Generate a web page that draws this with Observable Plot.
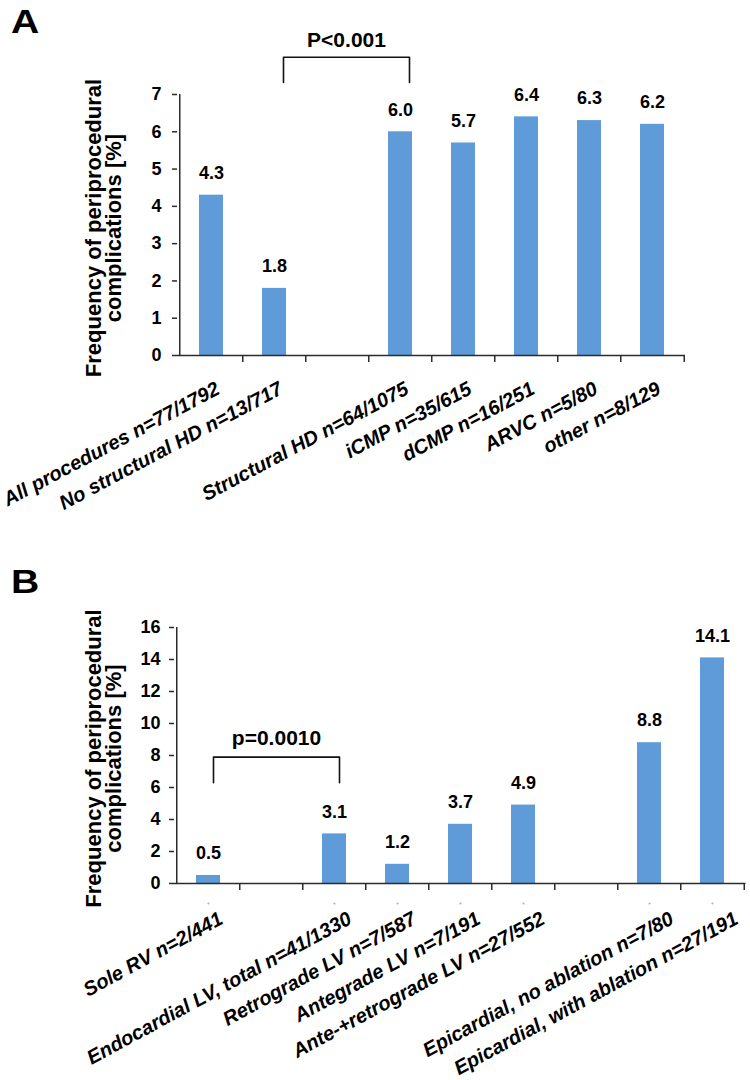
<!DOCTYPE html>
<html>
<head>
<meta charset="utf-8">
<script src="https://cdn.jsdelivr.net/npm/d3@7"></script>
<script src="https://cdn.jsdelivr.net/npm/@observablehq/plot@0.6"></script>
<style>
  body { margin: 0; background: #fff; }
  #wrap { position: relative; width: 750px; height: 1080px; background: #fff; font-family: "Liberation Sans", Arial, sans-serif; overflow: hidden; }
  .panel { position: absolute; left: 0; }
  .letter { position: absolute; left: 11px; font-weight: bold; font-size: 34px; line-height: 1; color: #000; font-family: "Liberation Sans", Arial, sans-serif; transform: scaleX(1.15); transform-origin: left top; }
</style>
</head>
<body>
<div id="wrap">
  <div class="letter" style="top:4px">A</div>
  <div class="letter" style="top:564px">B</div>
  <div class="panel" id="pa" style="top:0px"></div>
  <div class="panel" id="pb" style="top:520px"></div>
</div>
<script>
// ---- Panel A data ----
const categoriesA = [
  "All procedures n=77/1792",
  "No structural HD n=13/717",
  "",
  "Structural HD n=64/1075",
  "iCMP n=35/615",
  "dCMP n=16/251",
  "ARVC n=5/80",
  "other n=8/129"
];
const valuesA = [4.3, 1.8, null, 6.0, 5.7, 6.4, 6.3, 6.2];
const yTicksA = [0, 1, 2, 3, 4, 5, 6, 7];
const compareA = ["No structural HD n=13/717", "Structural HD n=64/1075"];
const pLabelA = "P<0.001";

// ---- Panel B data ----
const categoriesB = [
  "Sole RV n=2/441",
  "",
  "Endocardial LV, total n=41/1330",
  "Retrograde LV n=7/587",
  "Antegrade LV n=7/191",
  "Ante-+retrograde LV n=27/552",
  " ",
  "Epicardial, no ablation n=7/80",
  "Epicardial, with ablation n=27/191"
];
const valuesB = [0.5, null, 3.1, 1.2, 3.7, 4.9, null, 8.8, 14.1];
const yTicksB = [0, 2, 4, 6, 8, 10, 12, 14, 16];
const compareB = ["Sole RV n=2/441", "Endocardial LV, total n=41/1330"];
const pLabelB = "p=0.0010";

const yLabelText = "Frequency of periprocedural\ncomplications [%]";
const barColor = "#5e9bd8";
const axisColor = "#2b2b2b";
const FONT = "Liberation Sans, Arial, sans-serif";

function makePanel(o) {
  const W = 750;
  const step = (W - o.marginLeft - o.marginRight) / o.cats.length;
  const data = o.cats.map((c, i) => ({cat: c, value: o.vals[i]})).filter(d => d.value != null);
  const labels = o.cats.map((c, i) => ({cat: c, i})).filter(d => d.cat.trim() !== "");
  const [c1, c2] = o.compare;
  const bracket = [
    {x: c1, y: o.bLow}, {x: c1, y: o.bHigh},
    {x: c2, y: o.bHigh}, {x: c2, y: o.bLow}
  ];
  const mid = o.cats[(o.cats.indexOf(c1) + o.cats.indexOf(c2)) / 2];
  const marks = [
    Plot.barY(data, {x: "cat", y: "value", fill: barColor}),
    // value labels
    Plot.text(data, {x: "cat", y: "value", text: d => d.value.toFixed(1), dy: -22,
      fontSize: 18, fontWeight: "bold", fill: "#000"}),
    // y axis
    Plot.axisY(o.yTicks, {tickSize: 5, tickPadding: o.tickPad, fontSize: 18, fontWeight: "bold",
      stroke: axisColor, strokeWidth: 1.5, fill: "#000", label: null}),
    Plot.ruleX([o.cats[0]], {y1: 0, y2: o.yMax, dx: -step / 2, stroke: axisColor, strokeWidth: 1.5}),
    // x axis line and boundary ticks
    Plot.ruleY([0], {stroke: axisColor, strokeWidth: 1.5}),
    Plot.axisX(o.cats.slice(1), {tickSize: 7, dx: -step / 2, tickFormat: () => "", stroke: axisColor, strokeWidth: 1.5, label: null}),
    Plot.axisX([o.cats[o.cats.length - 1]], {tickSize: 7, dx: step / 2, tickFormat: () => "", stroke: axisColor, strokeWidth: 1.5, label: null}),
    // y axis title
    Plot.text([yLabelText], {frameAnchor: "left", text: d => d, rotate: -90, dx: o.titleDx, dy: o.titleDy,
      textAnchor: "middle", lineAnchor: "middle", lineHeight: 0.92,
      fontSize: 22, fontWeight: "bold", fill: "#000"}),
    // significance bracket
    Plot.line(bracket, {x: "x", y: "y", dx: o.bDx, stroke: "#111", strokeWidth: 1.6, curve: "linear", strokeLinejoin: "round"}),
    Plot.text([o.pLabel], {x: () => mid, y: () => o.pY, text: d => d, dx: o.bDx, fontSize: 21, fontWeight: "bold", fill: "#000"})
  ];
  // category labels (each slightly shifted, as in the source figure)
  for (const d of labels) {
    marks.push(Plot.text([d.cat], {x: v => v, frameAnchor: "bottom", text: v => v,
      rotate: -o.rot, textAnchor: "end", lineAnchor: "top", dx: o.lx + o.lgrow * d.i, dy: o.ly,
      fontSize: o.labelSize, fontWeight: "bold", fontStyle: "italic", fill: "#000"}));
  }
  if (o.dots) {
    marks.push(Plot.dot(data, {x: "cat", frameAnchor: "bottom", dy: 20, r: 1.1, fill: "#b5b5b5", stroke: null}));
  }
  return Plot.plot({
    width: W,
    height: o.height,
    marginLeft: o.marginLeft,
    marginRight: o.marginRight,
    marginTop: o.marginTop,
    marginBottom: o.marginBottom,
    style: {fontFamily: FONT, background: "transparent", overflow: "visible"},
    x: {domain: o.cats, paddingInner: 0.62, paddingOuter: 0.31, axis: null},
    y: {domain: [0, o.yMax], axis: null},
    marks
  });
}

document.getElementById("pa").appendChild(makePanel({
  cats: categoriesA, vals: valuesA, yMax: 7, yTicks: yTicksA,
  height: 560, marginLeft: 177, marginRight: 65, marginTop: 94, marginBottom: 205,
  tickPad: 11, rot: 28, lx: 3, lgrow: 0, ly: 25, labelSize: 20, titleDx: -73, titleDy: 3,
  compare: compareA, bLow: 7.32, bHigh: 8.0, bDx: 9, pLabel: pLabelA, pY: 8.45, dots: false
}));

document.getElementById("pb").appendChild(makePanel({
  cats: categoriesB, vals: valuesB, yMax: 16, yTicks: yTicksB,
  height: 560, marginLeft: 174, marginRight: 4.5, marginTop: 107, marginBottom: 197,
  tickPad: 9, rot: 28.5, lx: 9, lgrow: 1.4, ly: 27, labelSize: 20, titleDx: -70, titleDy: 3,
  compare: compareB, bLow: 6.3, bHigh: 7.9, bDx: 5, pLabel: pLabelB, pY: 9.1, dots: true
}));
</script>
</body>
</html>
